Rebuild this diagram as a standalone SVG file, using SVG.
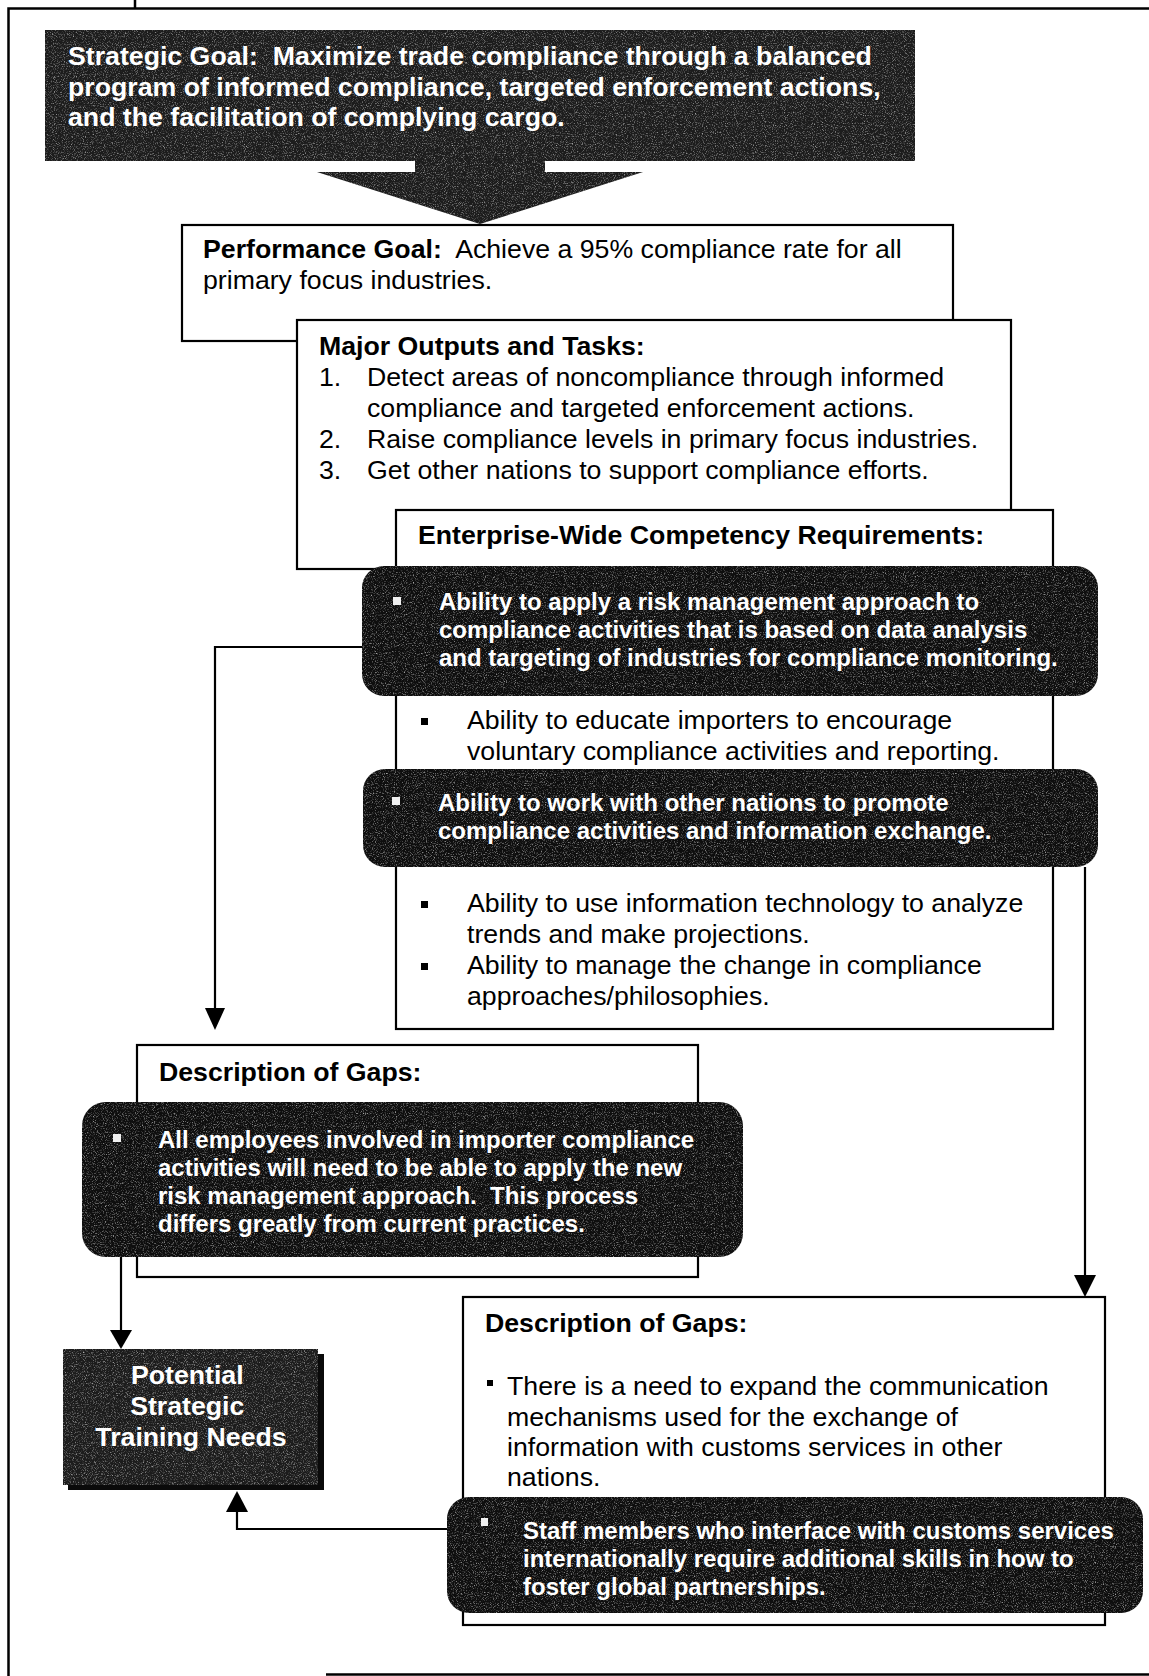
<svg xmlns="http://www.w3.org/2000/svg" width="1149" height="1676" viewBox="0 0 1149 1676">
  <defs>
    <style>
      .box{fill:#fff;stroke:#000;stroke-width:2.2}
      .dark{fill:#1c1c1c;filter:url(#grain)}
      .pill{fill:#0e0e0e}
      .shadow{fill:#0a0a0a}
      .t{font-family:"Liberation Sans",Arial,Helvetica,sans-serif;font-size:26.7px;fill:#000}
      .b{font-weight:bold}
      .w{fill:#fff}
      .s{font-size:24px;font-weight:bold;fill:#fff}
      .c{text-anchor:middle}
      .ln{fill:none;stroke:#000;stroke-width:2.2}
      .frame{fill:none;stroke:#000;stroke-width:2.5}
      .head{fill:#000}
      .wb{fill:#f0f0f0}
      .kb{fill:#000}
    </style>
    <!-- speckled halftone look for the dark panels -->
    <filter id="grain" x="0" y="0" width="1" height="1" color-interpolation-filters="sRGB">
      <feTurbulence type="fractalNoise" baseFrequency="0.9" numOctaves="2" seed="7" result="noise"/>
      <feColorMatrix in="noise" type="matrix" values="0 0 0 0 0.7  0 0 0 0 0.7  0 0 0 0 0.7  2.4 0 0 0 -1.22" result="speck"/>
      <feComposite in="speck" in2="SourceGraphic" operator="in" result="clipped"/>
      <feMerge>
        <feMergeNode in="SourceGraphic"/>
        <feMergeNode in="clipped"/>
      </feMerge>
    </filter>
  </defs>

  <rect width="1149" height="1676" fill="#fff"/>

  <!-- page frame -->
  <g id="frame">
    <path class="frame" d="M135,0 V8.5 M8.5,1676 V8.5 H1149 M326,1674.5 H1149"/>
  </g>

  <!-- strategic goal banner with its wide down arrow -->
  <g id="strategic-goal">
    <rect class="dark" x="45" y="30" width="870" height="131"/>
    <polygon class="dark" points="415,160 545,160 545,172 643,172 480,224 317,172 415,172"/>
    <text class="t b w" xml:space="preserve">
      <tspan x="68" y="65">Strategic Goal:  Maximize trade compliance through a balanced</tspan>
      <tspan x="68" y="96">program of informed compliance, targeted enforcement actions,</tspan>
      <tspan x="68" y="126">and the facilitation of complying cargo.</tspan>
    </text>
  </g>

  <!-- performance goal -->
  <g id="performance-goal">
    <rect class="box" x="182" y="225" width="771" height="116"/>
    <text class="t" xml:space="preserve"><tspan x="203" y="258"><tspan class="b">Performance Goal:</tspan>  Achieve a 95% compliance rate for all</tspan><tspan x="203" y="289">primary focus industries.</tspan></text>
  </g>

  <!-- major outputs and tasks -->
  <g id="major-outputs">
    <rect class="box" x="297" y="320" width="714" height="249"/>
    <text class="t b" x="319" y="355">Major Outputs and Tasks:</text>
    <text class="t">
      <tspan x="319" y="386">1.</tspan><tspan x="367" y="386">Detect areas of noncompliance through informed</tspan>
      <tspan x="367" y="417">compliance and targeted enforcement actions.</tspan>
      <tspan x="319" y="448">2.</tspan><tspan x="367" y="448">Raise compliance levels in primary focus industries.</tspan>
      <tspan x="319" y="479">3.</tspan><tspan x="367" y="479">Get other nations to support compliance efforts.</tspan>
    </text>
  </g>

  <!-- enterprise-wide competency requirements -->
  <g id="competencies">
    <rect class="box" x="396" y="510" width="657" height="519"/>
    <text class="t b" x="418" y="544">Enterprise-Wide Competency Requirements:</text>

    <g id="competency-risk">
      <rect class="dark pill" x="362" y="566" width="736" height="130" rx="22"/>
      <rect class="wb" x="393" y="597" width="8" height="8"/>
      <text class="t s">
        <tspan x="439" y="610">Ability to apply a risk management approach to</tspan>
        <tspan x="439" y="638">compliance activities that is based on data analysis</tspan>
        <tspan x="439" y="666">and targeting of industries for compliance monitoring.</tspan>
      </text>
    </g>

    <rect class="kb" x="421" y="718" width="7" height="7"/>
    <text class="t">
      <tspan x="467" y="729">Ability to educate importers to encourage</tspan>
      <tspan x="467" y="760">voluntary compliance activities and reporting.</tspan>
    </text>

    <g id="competency-nations">
      <rect class="dark pill" x="363" y="769" width="735" height="98" rx="22"/>
      <rect class="wb" x="392" y="797" width="8" height="8"/>
      <text class="t s">
        <tspan x="438" y="811">Ability to work with other nations to promote</tspan>
        <tspan x="438" y="839">compliance activities and information exchange.</tspan>
      </text>
    </g>

    <rect class="kb" x="421" y="901" width="7" height="7"/>
    <rect class="kb" x="421" y="963" width="7" height="7"/>
    <text class="t">
      <tspan x="467" y="912">Ability to use information technology to analyze</tspan>
      <tspan x="467" y="943">trends and make projections.</tspan>
      <tspan x="467" y="974">Ability to manage the change in compliance</tspan>
      <tspan x="467" y="1005">approaches/philosophies.</tspan>
    </text>
  </g>

  <!-- gaps for the risk management competency -->
  <g id="gaps-risk">
    <rect class="box" x="137" y="1045" width="561" height="232"/>
    <text class="t b" x="159" y="1081">Description of Gaps:</text>
    <rect class="dark pill" x="82" y="1102" width="661" height="155" rx="24"/>
    <rect class="wb" x="113" y="1134" width="8" height="8"/>
    <text class="t s" xml:space="preserve"><tspan x="158" y="1148">All employees involved in importer compliance</tspan><tspan x="158" y="1176">activities will need to be able to apply the new</tspan><tspan x="158" y="1204">risk management approach.  This process</tspan><tspan x="158" y="1232">differs greatly from current practices.</tspan></text>
  </g>

  <!-- training needs -->
  <g id="training-needs">
    <rect class="shadow" x="68" y="1354" width="256" height="136"/>
    <rect class="dark" x="63" y="1349" width="255" height="136"/>
    <text class="t b w c">
      <tspan x="191" y="1384">Potential</tspan>
      <tspan x="191" y="1415">Strategic</tspan>
      <tspan x="191" y="1446">Training Needs</tspan>
    </text>
  </g>

  <!-- gaps for the international cooperation competency -->
  <g id="gaps-nations">
    <rect class="box" x="463" y="1297" width="642" height="328"/>
    <text class="t b" x="485" y="1332">Description of Gaps:</text>
    <rect class="kb" x="487" y="1380" width="6" height="6"/>
    <text class="t">
      <tspan x="507" y="1395">There is a need to expand the communication</tspan>
      <tspan x="507" y="1425.5">mechanisms used for the exchange of</tspan>
      <tspan x="507" y="1456">information with customs services in other</tspan>
      <tspan x="507" y="1486">nations.</tspan>
    </text>
    <rect class="dark pill" x="447" y="1497" width="696" height="116" rx="22"/>
    <rect class="wb" x="481" y="1518" width="7" height="8"/>
    <text class="t s">
      <tspan x="523" y="1539">Staff members who interface with customs services</tspan>
      <tspan x="523" y="1567">internationally require additional skills in how to</tspan>
      <tspan x="523" y="1595">foster global partnerships.</tspan>
    </text>
  </g>

  <!-- connectors -->
  <g id="connectors">
    <path class="ln" d="M362,647 H215 V1010"/>
    <polygon class="head" points="205,1008 225,1008 215,1030"/>
    <path class="ln" d="M1085,867 V1277"/>
    <polygon class="head" points="1074,1275 1096,1275 1085,1297"/>
    <path class="ln" d="M121,1257 V1332"/>
    <polygon class="head" points="110,1330 132,1330 121,1349"/>
    <path class="ln" d="M447,1529 H237 V1510"/>
    <polygon class="head" points="226,1512 248,1512 237,1491"/>
  </g>
</svg>
